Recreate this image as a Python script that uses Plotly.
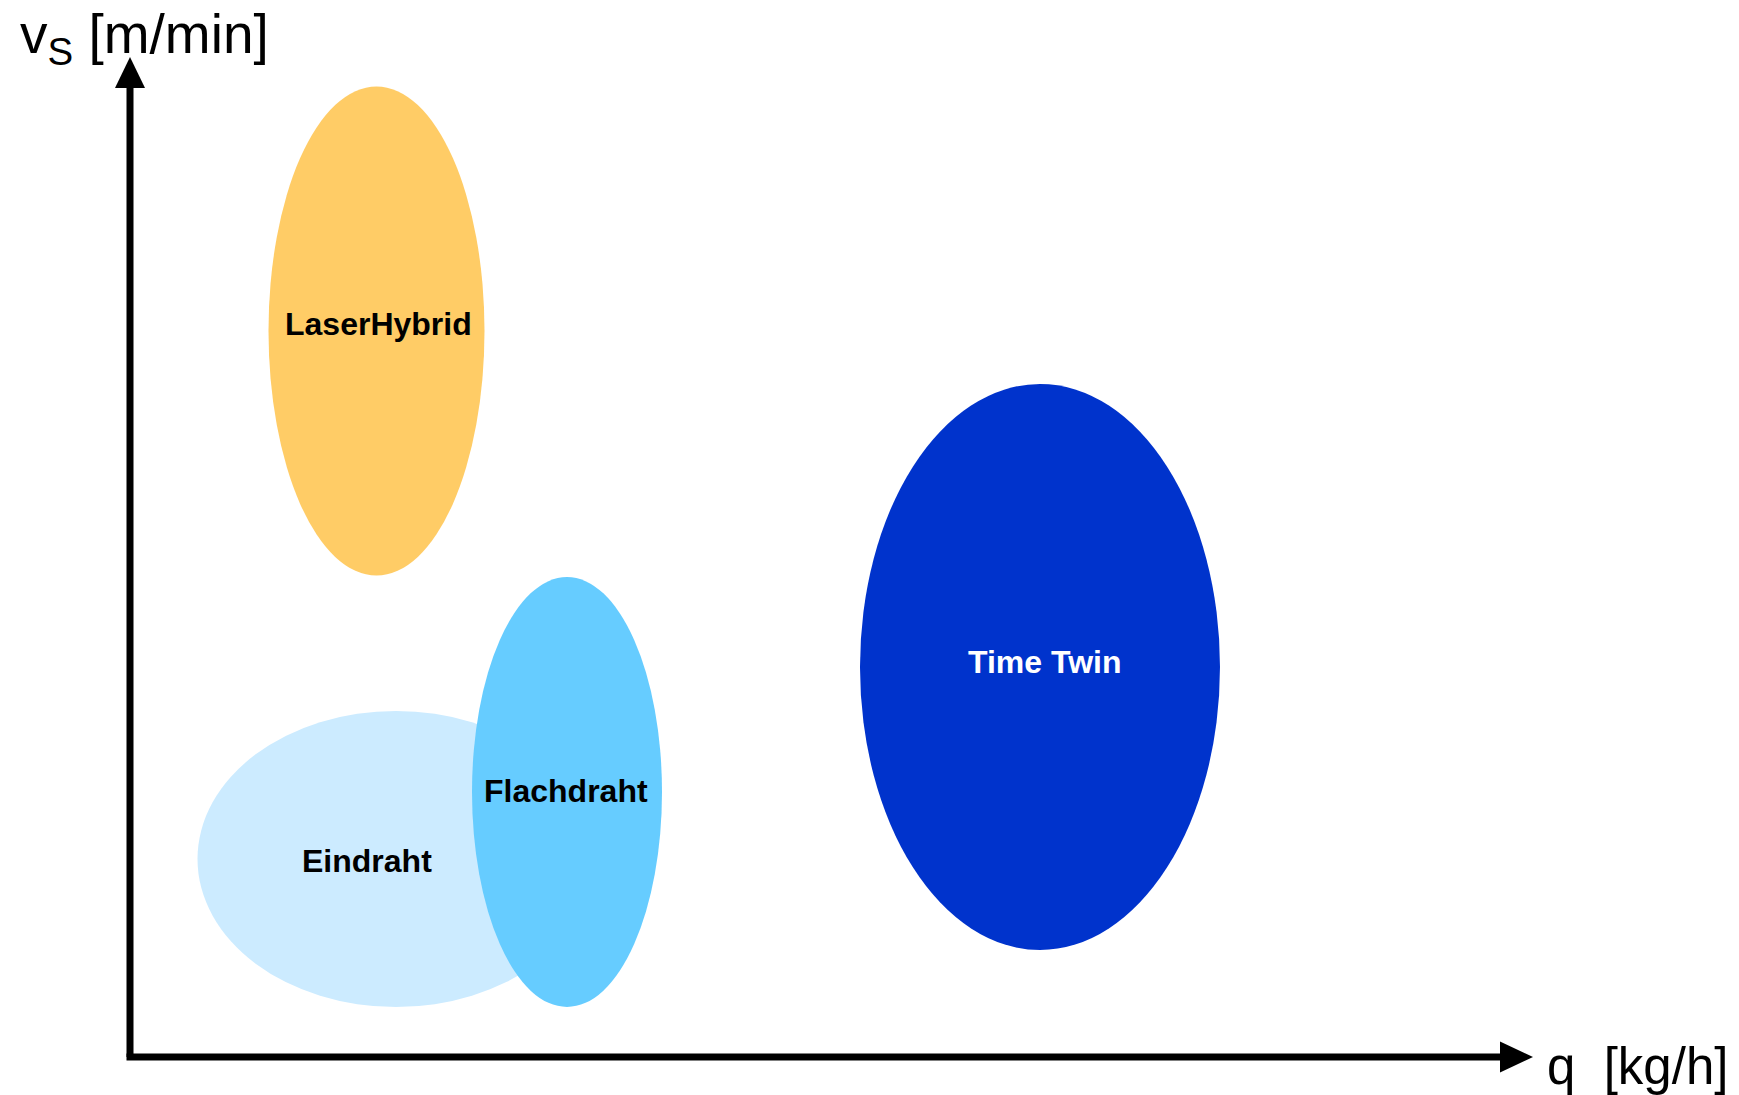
import plotly.graph_objects as go

# Verfahren: Bereich Abschmelzleistung q und Schweißgeschwindigkeit vs (relative Einheiten)
names = ['LaserHybrid', 'Eindraht', 'Flachdraht', 'Time Twin']
q_min = [13.85, 6.75, 34.2, 73.0]
q_max = [35.45, 46.45, 53.2, 109.0]
v_min = [48.15, 5.0, 5.0, 10.7]
v_max = [97.05, 34.6, 48.0, 67.3]
label_q = [24.8, 23.7, 43.6, 91.5]
label_v = [73.3, 19.6, 26.6, 39.5]
colors = ['#FFCC66', '#CCEBFF', '#66CCFF', '#0033CC']
text_colors = ['black', 'black', 'black', 'white']

fig = go.Figure()

# Ellipsen
for i in range(len(names)):
    fig.add_shape(type='circle', xref='x', yref='y',
                  x0=q_min[i], x1=q_max[i], y0=v_min[i], y1=v_max[i],
                  fillcolor=colors[i], line=dict(width=0), layer='below')
    fig.add_annotation(x=label_q[i], y=label_v[i], text='<b>' + names[i] + '</b>',
                       showarrow=False,
                       font=dict(family='Liberation Sans, Arial', size=32, color=text_colors[i]))

# Achsen mit Pfeilen
fig.add_shape(type='line', x0=0, y0=0, x1=0, y1=97.5, line=dict(color='black', width=7))
fig.add_shape(type='line', x0=-0.35, y0=0, x1=137.5, y1=0, line=dict(color='black', width=7))
fig.add_shape(type='path', path='M -1.5,96.9 L 1.5,96.9 L 0,100.0 Z',
              fillcolor='black', line=dict(width=0))
fig.add_shape(type='path', path='M 137.0,-1.55 L 137.0,1.55 L 140.3,0 Z',
              fillcolor='black', line=dict(width=0))

fig.add_annotation(x=-11.2, y=101.9, text='v<sub>S</sub> [m/min]', showarrow=False,
                   xanchor='left', yanchor='middle',
                   font=dict(family='Liberation Sans, Arial', size=55, color='black'))
fig.add_annotation(x=141.5, y=-0.9, text='q  [kg/h]', showarrow=False,
                   xanchor='left', yanchor='middle',
                   font=dict(family='Liberation Sans, Arial', size=51, color='black'))

fig.update_layout(
    width=1739, height=1095,
    margin=dict(l=0, r=0, t=0, b=0),
    plot_bgcolor='white', paper_bgcolor='white',
    showlegend=False,
    xaxis=dict(range=[-13, 160.9], visible=False, showgrid=False, zeroline=False),
    yaxis=dict(range=[-3.8, 105.7], visible=False, showgrid=False, zeroline=False))

fig.write_html('out.html', config={'displayModeBar': False},
               post_script="document.body.style.margin='0px';")
